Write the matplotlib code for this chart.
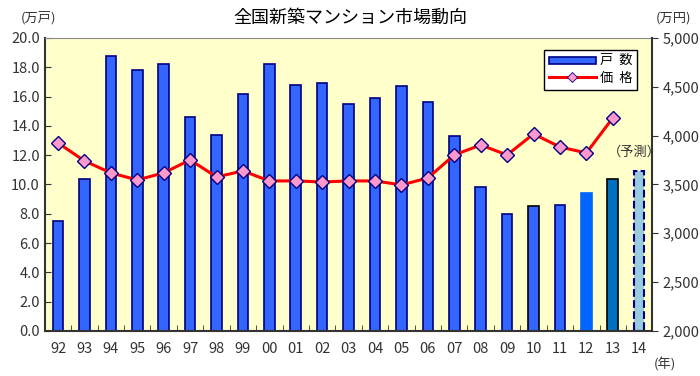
import matplotlib.pyplot as plt
import numpy as np

plt.rcParams['font.family'] = ['Noto Sans CJK JP', 'DejaVu Sans']

years = ['92', '93', '94', '95', '96', '97', '98', '99', '00', '01', '02', '03',
         '04', '05', '06', '07', '08', '09', '10', '11', '12', '13', '14']
units = [7.5, 10.4, 18.8, 17.8, 18.2, 14.6, 13.4, 16.2, 18.2, 16.8, 16.9, 15.5,
         15.9, 16.7, 15.6, 13.3, 9.8, 8.0, 8.5, 8.6, 9.4, 10.4, 10.9]
prices = [3925, 3741, 3618, 3546, 3618, 3751, 3577, 3638, 3536, 3536, 3525, 3536,
          3536, 3495, 3566, 3802, 3904, 3802, 4017, 3884, 3822, 4181]

x = np.arange(len(years))

# colours of the last few bars differ in the original
face = ['#3366FF'] * 20 + ['#0066FF', '#0070C0', '#99CCDD']
edge = ['#000080'] * 18 + ['#000000', '#000080', '#0066FF', '#000000', '#000080']

fig = plt.figure(figsize=(7, 3.76), dpi=100)
ax = fig.add_axes([0.064, 0.12, 0.868, 0.779])
ax.set_facecolor('#FFFFCC')

bars = ax.bar(x, units, width=0.4, color=face, edgecolor=edge, linewidth=1.2, zorder=2)
bars[-1].set_linestyle('--')
bars[-1].set_linewidth(1.5)

ax.set_xlim(-0.5, len(years) - 0.5)
ax.set_ylim(0, 20)
ax.set_yticks(np.arange(0, 20.1, 2))
ax.set_yticklabels([f'{v:.1f}' for v in np.arange(0, 20.1, 2)])
ax.set_xticks(x)
ax.set_xticklabels(years)
ax.set_xticks(np.arange(-0.5, len(years), 1), minor=True)
ax.tick_params(axis='x', which='major', length=0, pad=8)
ax.tick_params(axis='x', which='minor', direction='in', length=4, color='#333333')
ax.tick_params(axis='y', direction='in', length=4, labelsize=10.5, colors='#333333')
ax.tick_params(axis='x', labelsize=10.5, labelcolor='#333333')
for s in ['left', 'bottom']:
    ax.spines[s].set_color('#333333')
    ax.spines[s].set_linewidth(1.5)
ax.spines['top'].set_color('#888888')
ax.spines['right'].set_visible(False)

ax2 = ax.twinx()
ax2.plot(x[:len(prices)], prices, color='#FF0000', linewidth=2.2, marker='D',
         markersize=7, markerfacecolor='#FF99CC', markeredgecolor='#000080',
         markeredgewidth=1.0, zorder=3)
ax2.set_ylim(2000, 5000)
ax2.set_yticks(np.arange(2000, 5001, 500))
ax2.set_yticklabels([f'{v:,}' for v in range(2000, 5001, 500)])
ax2.tick_params(axis='y', direction='out', length=4, labelsize=10.5, colors='#333333')
ax2.spines['right'].set_color('#333333')
ax2.spines['right'].set_linewidth(1.5)
ax2.spines['top'].set_visible(False)
ax2.spines['left'].set_visible(False)
ax2.spines['bottom'].set_visible(False)

leg = ax2.legend([bars[0], ax2.lines[0]], ['戸  数', '価  格'], loc='upper right',
                 bbox_to_anchor=(0.975, 0.96), fontsize=9.5, frameon=True,
                 fancybox=False, edgecolor='#000000', framealpha=1,
                 handlelength=3.6, handletextpad=0.3, borderpad=0.35,
                 labelspacing=0.35, borderaxespad=0)
leg.get_frame().set_linewidth(1.0)
leg.legend_handles[0].set_height(5)
leg.legend_handles[1].set_markersize(5)
leg.legend_handles[1].set_markeredgewidth(0.6)

ax2.text(20.8, 3833, '（予測）', fontsize=9.5, color='#333333', ha='left', va='center')

fig.text(0.5, 0.952, '全国新築マンション市場動向', ha='center', va='center',
         fontsize=13, color='#000000')
fig.text(0.03, 0.952, '(万戸)', ha='left', va='center', fontsize=9.5, color='#333333')
fig.text(0.962, 0.952, '(万円)', ha='center', va='center', fontsize=9.5, color='#333333')
fig.text(0.95, 0.03, '(年)', ha='center', va='center', fontsize=9.5, color='#333333')

fig.savefig('out.png', dpi=100)
